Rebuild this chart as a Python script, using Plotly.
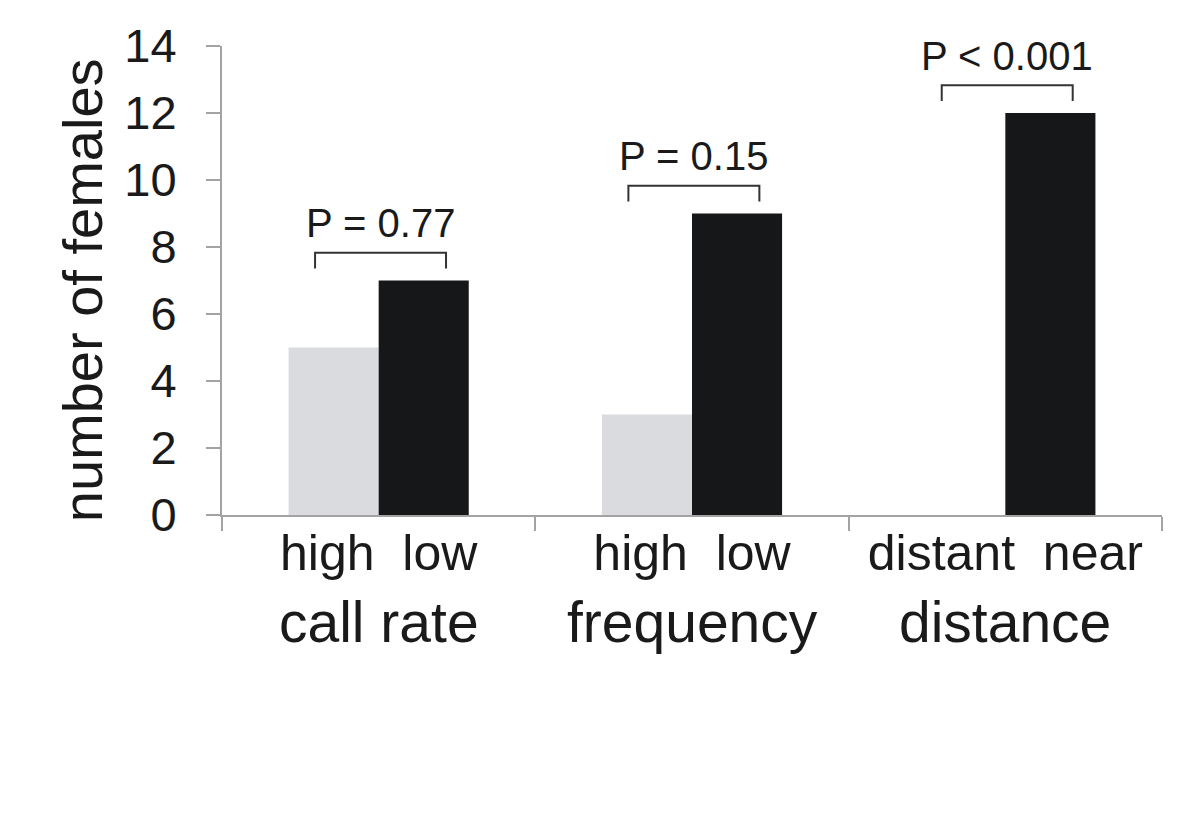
import plotly.graph_objects as go

categories = ["call rate", "frequency", "distance"]
pair_labels = ["high\u00a0\u00a0low", "high\u00a0\u00a0low", "distant\u00a0\u00a0near"]
first_values = [5, 3, 0]
second_values = [7, 9, 12]
p_labels = ["P = 0.77", "P = 0.15", "P < 0.001"]
y_ticks = [0, 2, 4, 6, 8, 10, 12, 14]

FONT = "Liberation Sans, Arial, Helvetica, sans-serif"
TXT = "#1a1a1a"
AX = "#a3a3a3"

fig = go.Figure()
fig.add_trace(go.Bar(x=categories, y=first_values, marker=dict(color="#dadbdf", line=dict(width=0)),
                     showlegend=False))
fig.add_trace(go.Bar(x=categories, y=second_values, marker=dict(color="#161719", line=dict(width=0)),
                     showlegend=False))

shapes = []
annotations = []
for i, (a, b, p) in enumerate(zip(first_values, second_values, p_labels)):
    top = max(a, b) + 0.83
    leg = max(a, b) + 0.36
    x0, x1 = i - 0.203, i + 0.215
    shapes.append(dict(type="path", xref="x", yref="y",
                       path=f"M {x0},{leg} L {x0},{top} L {x1},{top} L {x1},{leg}",
                       line=dict(color="#333333", width=2)))
    annotations.append(dict(x=i + 0.005, y=top + 0.88, xref="x", yref="y", text=p, showarrow=False,
                            font=dict(family=FONT, size=40, color=TXT),
                            xanchor="center", yanchor="middle"))
    annotations.append(dict(x=i, y=-0.228, xref="x", yref="paper", text=categories[i], showarrow=False,
                            font=dict(family=FONT, size=57, color=TXT),
                            xanchor="center", yanchor="middle"))

annotations.append(dict(x=-0.1475, y=0.48, xref="paper", yref="paper", text="number of females",
                        showarrow=False, textangle=-90,
                        font=dict(family=FONT, size=56, color=TXT),
                        xanchor="center", yanchor="middle"))

fig.update_layout(
    width=1200, height=826,
    margin=dict(l=214, r=46, t=38, b=319),
    paper_bgcolor="white", plot_bgcolor="white",
    barmode="group", bargap=0.425, bargroupgap=0,
    shapes=shapes, annotations=annotations,
    font=dict(family=FONT, color=TXT),
)
fig.update_xaxes(
    type="category", tickmode="array", tickvals=categories, ticktext=pair_labels,
    tickson="boundaries", ticks="outside", ticklen=14, tickwidth=2, tickcolor=AX,
    showline=True, linecolor=AX, linewidth=2, showgrid=False, zeroline=False,
    tickfont=dict(family=FONT, size=50, color=TXT), range=[-0.5, 2.5],
    ticklabelstandoff=-7,
)
fig.update_yaxes(
    range=[0, 14], tickmode="array", tickvals=y_ticks,
    ticks="outside", ticklen=14, tickwidth=2, tickcolor=AX,
    showline=True, linecolor=AX, linewidth=2, showgrid=False, zeroline=False,
    tickfont=dict(family=FONT, size=47, color=TXT), ticklabelstandoff=20,
)

fig.write_html("out.html")
